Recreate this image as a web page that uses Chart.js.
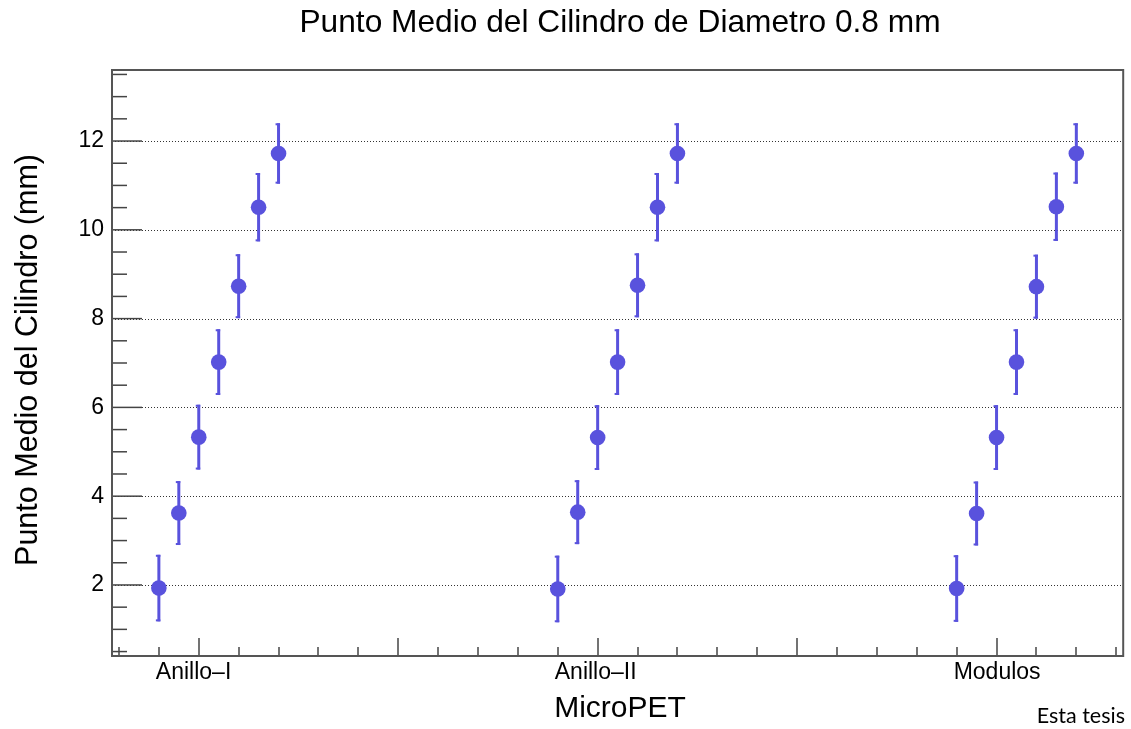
<!DOCTYPE html>
<html lang="es">
  <head>
    <meta charset="UTF-8" />
    <title>Punto Medio del Cilindro</title>
    <script src="https://cdn.jsdelivr.net/npm/chart.js"></script>
    <style>
      html,
      body {
        margin: 0;
        padding: 0;
        background: #fff;
      }
      #caja {
        width: 1131px;
        height: 729px;
      }
    </style>
  </head>
  <body>
    <div id="caja"><canvas id="grafico" width="1131" height="729"></canvas></div>

    <script>
      // Datos: punto medio medido (mm) y su error, por geometria
      const grupos = ["Anillo\u2013I", "Anillo\u2013II", "Modulos"];
      const posGrupo = [0.8, 2.8, 4.8];
      const desplazamiento = [0, 0.1, 0.2, 0.3, 0.4, 0.5, 0.6];
      const medioAnilloI = [1.93, 3.62, 5.33, 7.02, 8.73, 10.51, 11.72];
      const medioAnilloII = [1.91, 3.64, 5.32, 7.02, 8.75, 10.51, 11.72];
      const medioModulos = [1.92, 3.61, 5.32, 7.02, 8.72, 10.52, 11.72];
      const errAnilloI = [0.75, 0.72, 0.73, 0.74, 0.72, 0.77, 0.68];
      const errAnilloII = [0.75, 0.72, 0.73, 0.74, 0.72, 0.77, 0.68];
      const errModulos = [0.75, 0.72, 0.73, 0.74, 0.72, 0.77, 0.68];
      const ticksY = [2, 4, 6, 8, 10, 12];

      const medios = [medioAnilloI, medioAnilloII, medioModulos];
      const errores = [errAnilloI, errAnilloII, errModulos];
      const azul = "rgb(89, 82, 221)";
      const fuente = "'Liberation Sans', Arial, Helvetica, sans-serif";

      const datasets = grupos.map((g, i) => ({
        label: g,
        data: medios[i].map((v, k) => ({
          x: posGrupo[i] + desplazamiento[k],
          y: v,
          err: errores[i][k],
        })),
        pointRadius: 7.8,
        pointHoverRadius: 7.8,
        pointBackgroundColor: azul,
        pointBorderWidth: 0,
        showLine: false,
      }));

      function linea(ctx, x1, y1, x2, y2) {
        ctx.beginPath();
        ctx.moveTo(x1, y1);
        ctx.lineTo(x2, y2);
        ctx.stroke();
      }

      // marco estilo ROOT: rejilla punteada, barras de error, marcas y textos
      const marcoRoot = {
        id: "marcoRoot",
        beforeDatasetsDraw(chart) {
          const { ctx, chartArea: a, scales } = chart;
          const x = scales.x, y = scales.y;
          ctx.save();
          ctx.strokeStyle = "#333";
          ctx.lineWidth = 1;
          ctx.setLineDash([1, 2]);
          ticksY.forEach((v) => {
            const py = Math.round(y.getPixelForValue(v)) + 0.5;
            linea(ctx, a.left, py, a.right, py);
          });
          ctx.setLineDash([]);

          ctx.strokeStyle = azul;
          ctx.fillStyle = azul;
          chart.data.datasets.forEach((ds) => {
            ds.data.forEach((p) => {
              const px = x.getPixelForValue(p.x);
              const lo = y.getPixelForValue(p.y - p.err);
              const hi = y.getPixelForValue(p.y + p.err);
              ctx.lineWidth = 3;
              linea(ctx, px, lo, px, hi);
              ctx.fillRect(px - 3, hi, 4.5, 2);
              ctx.fillRect(px - 3, lo - 2, 4.5, 2);
            });
          });
          ctx.restore();
        },
        afterDraw(chart) {
          const { ctx, chartArea: a, scales } = chart;
          const x = scales.x, y = scales.y;
          ctx.save();
          ctx.strokeStyle = "#444";
          ctx.lineWidth = 1.5;
          // marcas del eje Y
          for (let v = 0.5; v <= 13.5; v += 0.5) {
            const py = y.getPixelForValue(v);
            const largo = v % 2 === 0 ? 30 : 15;
            linea(ctx, a.left, py, a.left + largo, py);
          }
          // marcas del eje X
          for (let k = 3; k <= 28; k++) {
            const v = k * 0.2;
            const px = Math.round(x.getPixelForValue(v));
            const largo = k % 5 === 0 ? 18 : 9;
            linea(ctx, px, a.bottom, px, a.bottom - largo);
          }
          // marco
          ctx.strokeStyle = "#555";
          ctx.lineWidth = 2;
          ctx.strokeRect(a.left, a.top, a.right - a.left, a.bottom - a.top);

          ctx.fillStyle = "#000";
          ctx.textBaseline = "alphabetic";
          // etiquetas de los grupos, alineadas a la izquierda como en ROOT
          ctx.textAlign = "left";
          ctx.font = "23px " + fuente;
          grupos.forEach((g, i) => {
            ctx.fillText(g, x.getPixelForValue(posGrupo[i]) - 3, 679);
          });

          ctx.textAlign = "center";
          ctx.font = "31.7px " + fuente;
          ctx.fillText("Punto Medio del Cilindro de Diametro 0.8 mm", 620, 32);
          ctx.font = "30px " + fuente;
          ctx.fillText("MicroPET", 620, 717);
          ctx.save();
          ctx.translate(37, 360);
          ctx.rotate(-Math.PI / 2);
          ctx.font = "30.5px " + fuente;
          ctx.fillText("Punto Medio del Cilindro (mm)", 0, 0);
          ctx.restore();
          ctx.textAlign = "right";
          ctx.font = "21.5px Lato, 'Open Sans', sans-serif";
          ctx.fillText("Esta tesis", 1125, 723);
          ctx.restore();
        },
      };

      new Chart(document.getElementById("grafico").getContext("2d"), {
        type: "scatter",
        data: { datasets },
        options: {
          responsive: false,
          animation: false,
          events: [],
          layout: { padding: { top: 70, right: 5, left: 0, bottom: 0 } },
          plugins: {
            legend: { display: false },
            tooltip: { enabled: false },
          },
          scales: {
            x: {
              type: "linear",
              min: 0.565,
              max: 5.635,
              grid: { display: false, drawTicks: false },
              border: { display: false },
              afterFit: (s) => {
                s.height = 73;
              },
              ticks: { display: false },
            },
            y: {
              min: 0.4,
              max: 13.6,
              grid: { display: false, drawTicks: false },
              border: { display: false },
              afterBuildTicks: (s) => {
                s.ticks = ticksY.map((v) => ({ value: v }));
              },
              afterFit: (s) => {
                s.width = 112;
              },
              ticks: {
                padding: 8,
                color: "#000",
                font: { family: fuente, size: 23 },
              },
            },
          },
        },
        plugins: [marcoRoot],
      });
    </script>
  </body>
</html>
